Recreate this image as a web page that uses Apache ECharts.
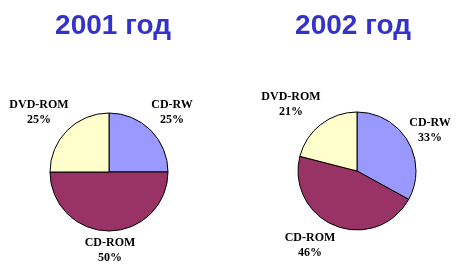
<!DOCTYPE html>
<html><head><meta charset="utf-8">
<script src="https://cdn.jsdelivr.net/npm/echarts@6/dist/echarts.min.js"></script>
<style>html,body{margin:0;padding:0;background:#fff}#c{width:460px;height:278px}</style>
</head><body><div id="c"></div>
<script>
const categories = ['CD-RW', 'CD-ROM', 'DVD-ROM'];
const values2001 = [25, 50, 25];
const values2002 = [33, 46, 21];
const titles = ['2001 год', '2002 год'];
const colors = ['#9999FF', '#993366', '#FFFFCC'];

// label centre positions (layout only)
const labelPos = [
  [[172, 112], [110, 250], [39, 112]],
  [[430, 130], [310, 245], [291, 104]]
];

const chart = echarts.init(document.getElementById('c'), null, {renderer: 'canvas'});
function mk(vals, idx, center) {
  return {
    type: 'pie',
    center: center,
    radius: 59,
    startAngle: 90,
    clockwise: true,
    animation: false,
    silent: true,
    data: categories.map((c, i) => ({name: c, value: vals[i], itemStyle: {color: colors[i]}})),
    itemStyle: {borderColor: '#000', borderWidth: 1},
    label: {
      show: true,
      position: 'inside',
      overflow: 'none',
      formatter: '{b}\n{c}%',
      fontFamily: 'Liberation Serif',
      fontWeight: 'bold',
      fontSize: 12,
      lineHeight: 15,
      color: '#000',
      align: 'center'
    },
    labelLine: {show: false},
    labelLayout: function (p) {
      const pos = labelPos[idx][p.dataIndex];
      return {x: pos[0], y: pos[1], align: 'center', verticalAlign: 'middle', hideOverlap: false, moveOverlap: null};
    }
  };
}
chart.setOption({
  backgroundColor: '#fff',
  title: titles.map((t, i) => ({
    text: t,
    left: i === 0 ? 108 : 348,
    top: 7,
    textAlign: 'center',
    textStyle: {fontFamily: 'Liberation Sans', fontWeight: 'bold', fontSize: 28, color: '#3333CC'}
  })),
  series: [mk(values2001, 0, [109, 172]), mk(values2002, 1, [357, 171])]
});
</script></body></html>
